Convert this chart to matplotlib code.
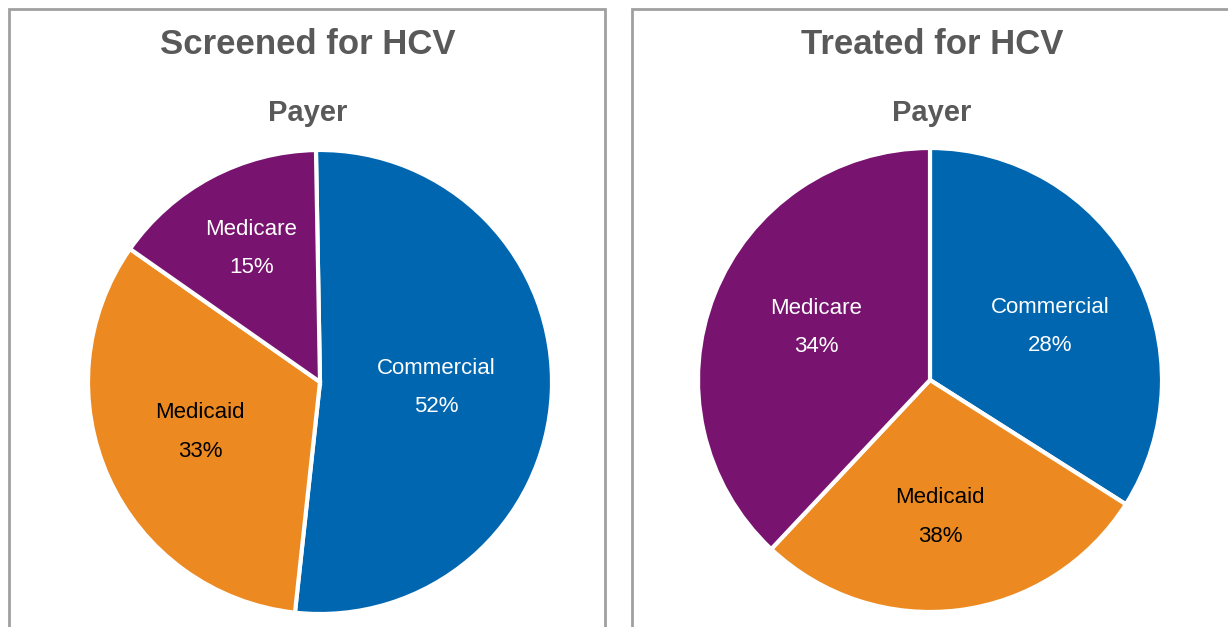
import matplotlib.pyplot as plt
import numpy as np
from matplotlib.patches import Rectangle

# data
payers = ['Commercial', 'Medicaid', 'Medicare']
screened_share = [52, 33, 15]
screened_labels = ['52%', '33%', '15%']
# wedge sizes as drawn in the treated pie, and the percentages printed on it
treated_share = [34, 28, 38]
treated_labels = ['28%', '38%', '34%']

colors = ['#0066B0', '#EC8A21', '#781470']
txt_colors = ['white', 'black', 'white']

plt.rcParams['font.family'] = ['Liberation Sans', 'DejaVu Sans']

W, H = 1228, 627
fig = plt.figure(figsize=(W / 100, H / 100), dpi=100)

def px_axes(x0, y0, x1, y1):
    return fig.add_axes([x0 / W, 1 - y1 / H, (x1 - x0) / W, (y1 - y0) / H])

# panel frames (open at the bottom)
for x0, x1 in [(9, 605), (632, 1240)]:
    fig.patches.append(Rectangle((x0 / W, -0.05), (x1 - x0) / W, 1 - 9 / H + 0.05,
                                 transform=fig.transFigure, fill=False,
                                 edgecolor='#a0a0a0', linewidth=2))

def draw_pie(box, sizes, labels, start, place, title, tx):
    ax = px_axes(*box)
    wedges, _ = ax.pie(sizes, colors=colors, startangle=start, counterclock=False,
                       wedgeprops=dict(edgecolor='white', linewidth=3))
    for w, name, lab, (d, off), c in zip(wedges, payers, labels, place, txt_colors):
        ang = np.deg2rad((w.theta1 + w.theta2) / 2 + off)
        x, y = d * np.cos(ang), d * np.sin(ang)
        ax.text(x, y + 0.08, name, ha='center', va='center', fontsize=16, color=c)
        ax.text(x, y - 0.085, lab, ha='center', va='center', fontsize=16, color=c)
    ax.set_xlim(-1.0, 1.0)
    ax.set_ylim(-1.0, 1.0)
    ax.set_aspect('equal')
    ax.axis('off')
    fig.text(tx / W, 1 - 54 / H, title, ha='center', va='baseline',
             fontsize=25, fontweight='bold', color='#595959')
    fig.text(tx / W, 1 - 121 / H, 'Payer', ha='center', va='baseline',
             fontsize=21, fontweight='bold', color='#595959')

draw_pie((88, 150, 552, 614), screened_share, screened_labels, 91,
         [(0.5, 0), (0.56, -2), (0.65, -1)], 'Screened for HCV', 308)
draw_pie((698, 148, 1162, 612), treated_share, treated_labels, 90,
         [(0.57, -4.5), (0.59, -3), (0.54, -3.5)], 'Treated for HCV', 932)

fig.savefig('out.png', dpi=100)
